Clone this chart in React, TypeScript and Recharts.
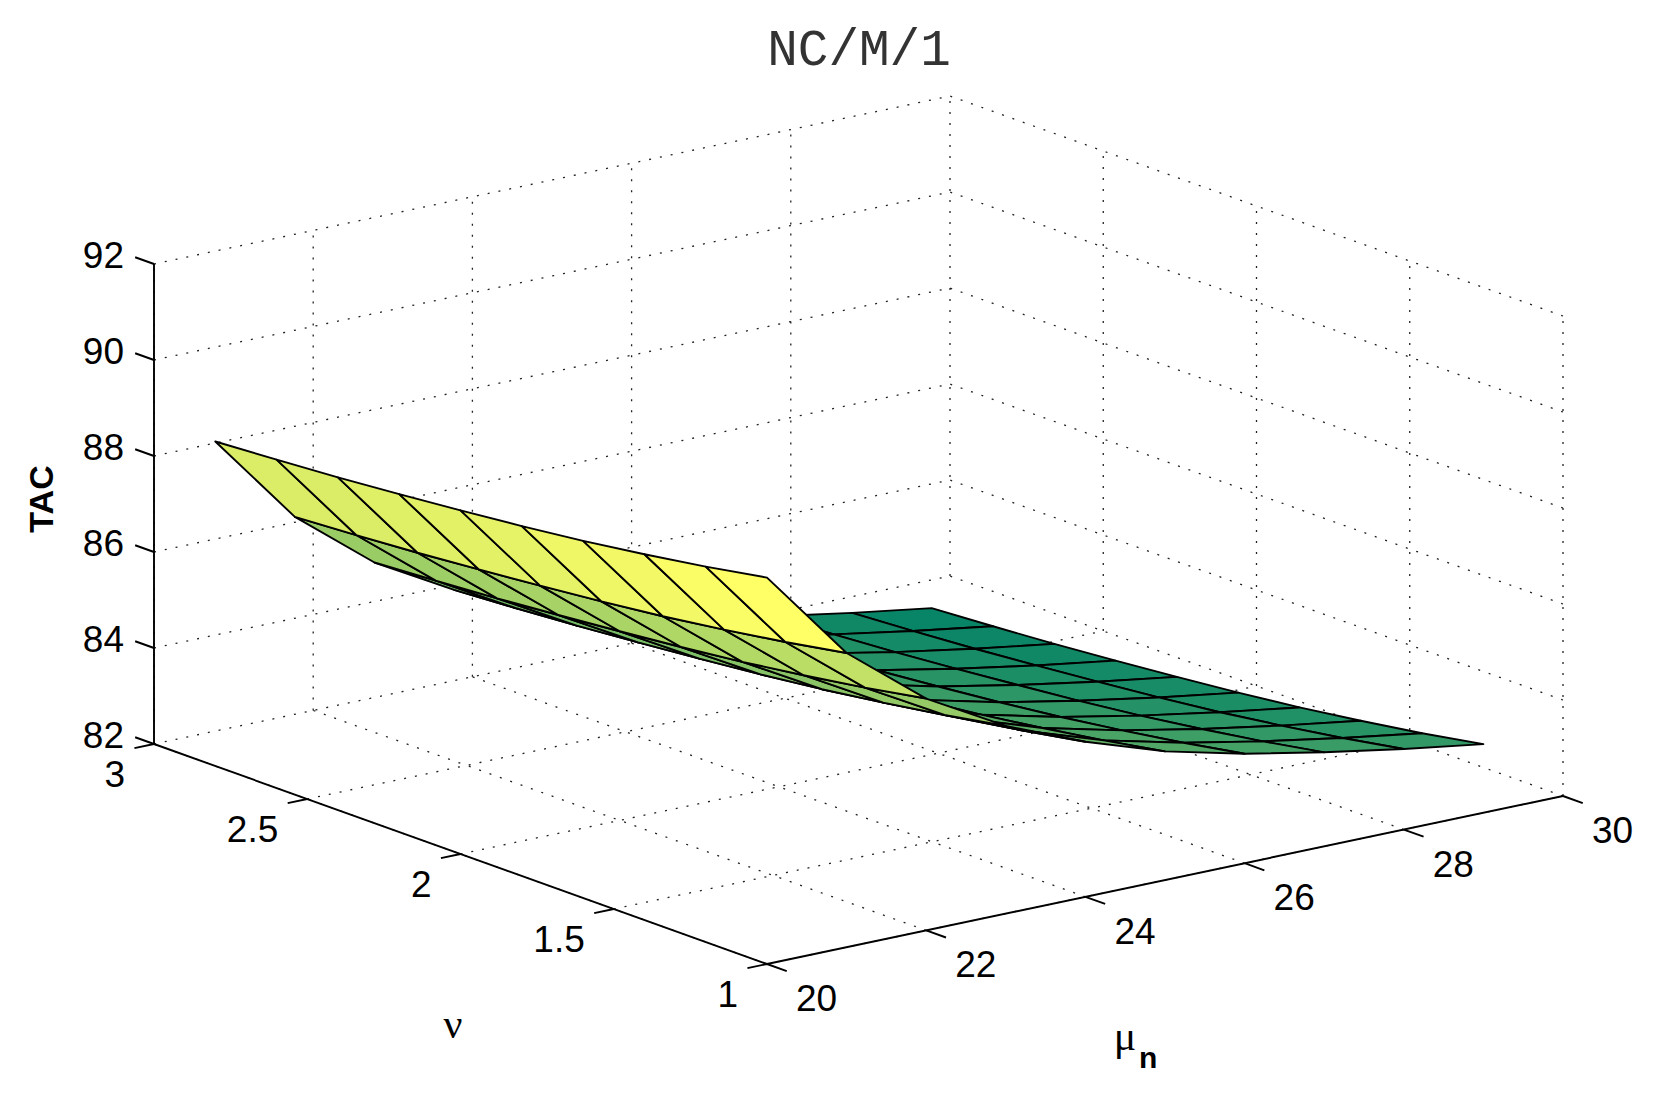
import React from 'react';
import { ComposedChart, XAxis, YAxis, Scatter, Polygon } from 'recharts';

const W = 1665;
const H = 1096;

// grid of the surface
const MU = [20, 21, 22, 23, 24, 25, 26, 27, 28, 29];
const NU = [1.0, 1.2, 1.4, 1.6, 1.8, 2.0, 2.2, 2.4, 2.6, 2.8];
// TAC[i][j] -> nu = NU[i], mu = MU[j]
const TAC = [
  [90.05, 88.13, 86.83, 85.91, 85.23, 84.68, 84.28, 83.96, 83.68, 83.43],
  [89.82, 87.9, 86.6, 85.68, 85.0, 84.45, 84.05, 83.73, 83.45, 83.2],
  [89.62, 87.7, 86.4, 85.48, 84.8, 84.25, 83.85, 83.53, 83.25, 83.0],
  [89.44, 87.52, 86.22, 85.3, 84.62, 84.07, 83.67, 83.35, 83.07, 82.82],
  [89.29, 87.37, 86.07, 85.15, 84.47, 83.92, 83.52, 83.2, 82.92, 82.67],
  [89.16, 87.24, 85.94, 85.02, 84.34, 83.79, 83.39, 83.07, 82.79, 82.54],
  [89.04, 87.12, 85.82, 84.9, 84.22, 83.67, 83.27, 82.95, 82.67, 82.42],
  [88.93, 87.01, 85.71, 84.79, 84.11, 83.56, 83.16, 82.84, 82.56, 82.31],
  [88.84, 86.92, 85.62, 84.7, 84.02, 83.47, 83.07, 82.75, 82.47, 82.22],
  [88.76, 86.84, 85.54, 84.62, 83.94, 83.39, 82.99, 82.67, 82.39, 82.14],
];

const MU_TICKS = [20, 22, 24, 26, 28, 30];
const NU_TICKS = [1, 1.5, 2, 2.5, 3];
const Z_TICKS = [82, 84, 86, 88, 90, 92];
const MU_LIM = [20, 30];
const NU_LIM = [1, 3];
const Z_LIM = [82, 92];

// orthographic view of the plot box (pixels)
const BOX = {
  origin: { x: 767, y: 964 },
  u: { x: 796, y: -168 },
  v: { x: -613, y: -220 },
  w: { x: 0, y: -480 },
};

type Pt = { x: number; y: number; label?: string };

function norm(mu: number, nu: number, z: number) {
  return [
    (mu - MU_LIM[0]) / (MU_LIM[1] - MU_LIM[0]),
    (nu - NU_LIM[0]) / (NU_LIM[1] - NU_LIM[0]),
    (z - Z_LIM[0]) / (Z_LIM[1] - Z_LIM[0]),
  ];
}

function project(mu: number, nu: number, z: number, label?: string): Pt {
  const [u, v, w] = norm(mu, nu, z);
  return {
    x: BOX.origin.x + u * BOX.u.x + v * BOX.v.x + w * BOX.w.x,
    y: BOX.origin.y + u * BOX.u.y + v * BOX.v.y + w * BOX.w.y,
    label,
  };
}

function depth(mu: number, nu: number, z: number) {
  const [u, v, w] = norm(mu, nu, z);
  return 613 * u + 796 * v - 143 * w;
}

// matlab "summer" colormap, 64 entries
const zAll = TAC.flat();
const cMin = Math.min(...zAll);
const cMax = Math.max(...zAll);
function summer(c: number) {
  const idx = Math.min(63, Math.floor(((c - cMin) / (cMax - cMin)) * 64));
  const t = idx / 63;
  return `rgb(${Math.round(255 * t)},${Math.round(255 * (0.5 + 0.5 * t))},102)`;
}

type Face = { pts: Pt[]; color: string; d: number; key: string };
const faces: Face[] = [];
for (let i = 0; i < NU.length - 1; i++) {
  for (let j = 0; j < MU.length - 1; j++) {
    const idx = [[i, j], [i, j + 1], [i + 1, j + 1], [i + 1, j]];
    const pts = idx.map(([r, c]) => project(MU[c], NU[r], TAC[r][c]));
    const d = idx.reduce((s, [r, c]) => s + depth(MU[c], NU[r], TAC[r][c]), 0) / 4;
    faces.push({ pts, color: summer(TAC[i][j]), d, key: `f${i}-${j}` });
  }
}
faces.sort((a, b) => b.d - a.d);

// dotted grid on the three back planes
const gridPts: Pt[] = [];
MU_TICKS.forEach((m) => {
  gridPts.push(project(m, NU_LIM[1], Z_LIM[0]), project(m, NU_LIM[1], Z_LIM[1]));
  gridPts.push(project(m, NU_LIM[0], Z_LIM[0]), project(m, NU_LIM[1], Z_LIM[0]));
});
NU_TICKS.forEach((n) => {
  gridPts.push(project(MU_LIM[1], n, Z_LIM[0]), project(MU_LIM[1], n, Z_LIM[1]));
  gridPts.push(project(MU_LIM[0], n, Z_LIM[0]), project(MU_LIM[1], n, Z_LIM[0]));
});
Z_TICKS.forEach((z) => {
  gridPts.push(project(MU_LIM[0], NU_LIM[1], z), project(MU_LIM[1], NU_LIM[1], z));
  gridPts.push(project(MU_LIM[1], NU_LIM[0], z), project(MU_LIM[1], NU_LIM[1], z));
});

const axisPts: Pt[] = [
  project(MU_LIM[0], NU_LIM[1], Z_LIM[0]), project(MU_LIM[0], NU_LIM[1], Z_LIM[1]),
  project(MU_LIM[0], NU_LIM[0], Z_LIM[0]), project(MU_LIM[0], NU_LIM[1], Z_LIM[0]),
  project(MU_LIM[0], NU_LIM[0], Z_LIM[0]), project(MU_LIM[1], NU_LIM[0], Z_LIM[0]),
];

const tickPts: Pt[] = [];
MU_TICKS.forEach((m) => tickPts.push(project(m, NU_LIM[0], Z_LIM[0]), project(m, NU_LIM[0] - 0.0645, Z_LIM[0])));
NU_TICKS.forEach((n) => tickPts.push(project(MU_LIM[0], n, Z_LIM[0]), project(MU_LIM[0] - 0.246, n, Z_LIM[0])));
Z_TICKS.forEach((z) => tickPts.push(project(MU_LIM[0], NU_LIM[1], z), project(MU_LIM[0], NU_LIM[1] + 0.0615, z)));

const muLabels = MU_TICKS.map((m) => project(m, NU_LIM[0], Z_LIM[0], String(m)));
const nuLabels = NU_TICKS.map((n) => project(MU_LIM[0], n, Z_LIM[0], String(n)));
const zLabels = Z_TICKS.map((z) => project(MU_LIM[0], NU_LIM[1], z, String(z)));

const noDot = () => <g />;

const segments = (stroke: string, width: number, dash?: string) => (props: any) => {
  const p = props.points as { x: number; y: number }[];
  let d = '';
  for (let k = 0; k + 1 < p.length; k += 2) d += `M${p[k].x},${p[k].y}L${p[k + 1].x},${p[k + 1].y}`;
  return <path d={d} fill="none" stroke={stroke} strokeWidth={width} strokeDasharray={dash} />;
};

const tickText = (dx: number, dy: number, anchor: 'start' | 'middle' | 'end') => (props: any) => (
  <text
    x={props.cx + dx}
    y={props.cy + dy}
    textAnchor={anchor}
    fontFamily="'Liberation Sans', Arial, sans-serif"
    fontSize={37}
    fill="#000"
  >
    {props.payload.label}
  </text>
);

export default function App() {
  return (
    <div style={{ position: 'absolute', left: 0, top: 0, width: W, height: H, background: '#fff' }}>
      <ComposedChart width={W} height={H} margin={{ top: 0, right: 0, bottom: 0, left: 0 }}>
        <XAxis type="number" dataKey="x" domain={[0, W]} allowDataOverflow hide />
        <YAxis type="number" dataKey="y" domain={[0, H]} allowDataOverflow reversed hide />
        <Scatter data={gridPts} shape={noDot} line={segments('#222', 1.3, '2 9')} isAnimationActive={false} legendType="none" />
        {faces.map((f) => (
          <Scatter
            key={f.key}
            data={f.pts}
            shape={noDot}
            line={(props: any) => (
              <Polygon points={props.points} fill={f.color} stroke="#000" strokeWidth={1.9} strokeLinejoin="round" />
            )}
            isAnimationActive={false}
            legendType="none"
          />
        ))}
        <Scatter data={axisPts} shape={noDot} line={segments('#000', 1.9)} isAnimationActive={false} legendType="none" />
        <Scatter data={tickPts} shape={noDot} line={segments('#000', 1.9)} isAnimationActive={false} legendType="none" />
        <Scatter data={muLabels} shape={tickText(29, 47, 'start')} isAnimationActive={false} legendType="none" />
        <Scatter data={nuLabels} shape={tickText(-29, 43, 'end')} isAnimationActive={false} legendType="none" />
        <Scatter data={zLabels} shape={tickText(-30, 4, 'end')} isAnimationActive={false} legendType="none" />
      </ComposedChart>
      <svg width={W} height={H} style={{ position: 'absolute', left: 0, top: 0, pointerEvents: 'none' }}>
        <text x={859} y={65} textAnchor="middle" fontFamily="'Liberation Mono', monospace" fontSize={51} fill="#333">
          NC/M/1
        </text>
        <text
          transform="translate(53,499) rotate(-90)"
          textAnchor="middle"
          fontFamily="'Liberation Sans', Arial, sans-serif"
          fontWeight="bold"
          fontSize={34}
        >
          TAC
        </text>
        <text x={453} y={1038} textAnchor="middle" fontFamily="'Liberation Serif', serif" fontSize={42}>
          ν
        </text>
        <text x={1125} y={1050} textAnchor="middle" fontFamily="'Liberation Serif', serif" fontSize={42}>
          μ
        </text>
        <text x={1139} y={1068} fontFamily="'Liberation Sans', Arial, sans-serif" fontWeight="bold" fontSize={30}>
          n
        </text>
      </svg>
    </div>
  );
}
